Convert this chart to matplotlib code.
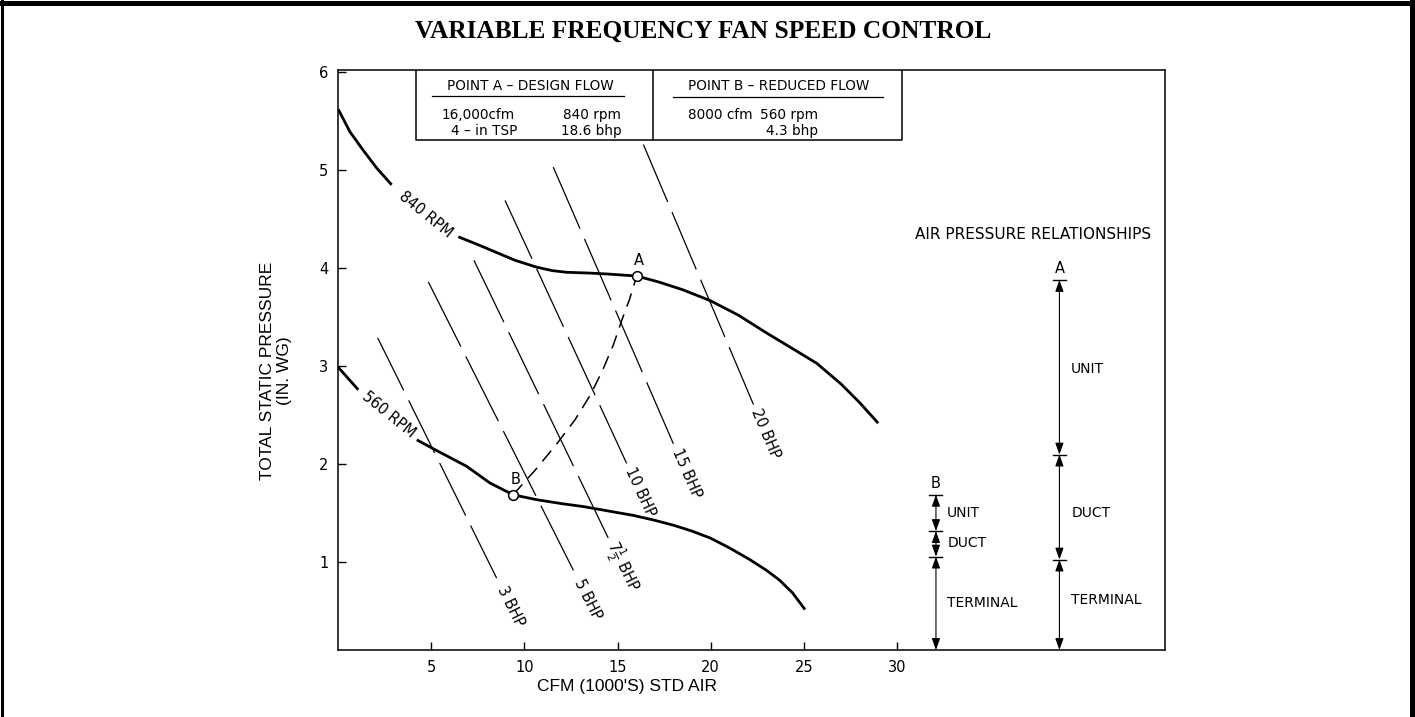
import numpy as np
import matplotlib
matplotlib.use('Agg')
import matplotlib.pyplot as plt
from matplotlib.lines import Line2D

# ---------------- data ----------------
x_ticks = [5, 10, 15, 20, 25, 30]
y_ticks = [1, 2, 3, 4, 5, 6]

# 840 rpm fan curve (first 5 points before the label, rest after)
rpm840_x = [0.0, 0.63, 1.35, 2.07, 2.87,
            6.45, 7.5, 8.5, 9.5, 10.66, 11.5, 12.27, 13.5, 14.5, 16.03,
            17.2, 18.5, 19.97, 21.5, 23.0, 24.4, 25.7, 27.0, 28.0, 29.0]
rpm840_y = [5.62, 5.39, 5.20, 5.02, 4.85,
            4.32, 4.24, 4.16, 4.08, 4.01, 3.975, 3.958, 3.95, 3.94, 3.92,
            3.86, 3.78, 3.67, 3.52, 3.34, 3.18, 3.03, 2.82, 2.63, 2.42]
rpm840_split = 5

# 560 rpm fan curve (first 2 points before the label)
rpm560_x = [0.0, 1.08,
            4.22, 5.1, 6.0, 6.9, 8.15, 9.4, 10.66, 12.0, 13.16, 14.06, 15.85,
            17.0, 18.0, 19.0, 19.97, 21.0, 22.1, 23.0, 23.7, 24.4, 25.07]
rpm560_y = [2.99, 2.76,
            2.25, 2.16, 2.07, 1.98, 1.81, 1.69, 1.64, 1.60, 1.57, 1.54, 1.48,
            1.43, 1.38, 1.32, 1.25, 1.15, 1.03, 0.92, 0.82, 0.69, 0.52]
rpm560_split = 2

# system curve B -> A
system_x = [9.39, 10.57, 11.70, 12.70, 13.55, 14.20, 14.78, 15.23, 15.64, 16.03]
system_y = [1.69, 1.94, 2.20, 2.45, 2.71, 2.96, 3.22, 3.47, 3.68, 3.92]

# constant brake-horsepower lines
bhp_labels = ['3 BHP', '5 BHP', r'$7\frac{1}{2}$ BHP', '10 BHP', '15 BHP', '20 BHP']
bhp_x0 = [2.12, 4.84, 7.29, 8.96, 11.55, 16.39]
bhp_y0 = [3.29, 3.86, 4.08, 4.69, 5.03, 5.26]
bhp_x1 = [8.51, 12.63, 14.50, 15.49, 18.00, 22.30]
bhp_y1 = [0.84, 0.92, 1.25, 2.01, 2.21, 2.61]

# operating points
point_names = ['A', 'B']
point_cfm = [16.03, 9.4]
point_tsp = [3.92, 1.69]

# air pressure relationships (boundaries of TERMINAL / DUCT / UNIT)
segment_names = ['TERMINAL', 'DUCT', 'UNIT']
barA_bounds = [1.03, 2.10, 3.88]
barB_bounds = [1.06, 1.32, 1.69]

# ---------------- figure ----------------
plt.rcParams['font.family'] = ['DejaVu Sans']
plt.rcParams['mathtext.fontset'] = 'dejavusans'
plt.rcParams['lines.scale_dashes'] = False

W, H = 1415, 717
fig = plt.figure(figsize=(W / 100, H / 100), dpi=100)
ax_l, ax_r, ax_t, ax_b = 338.2, 1165, 70, 650
ax = fig.add_axes([ax_l / W, 1 - ax_b / H, (ax_r - ax_l) / W, (ax_b - ax_t) / H])
ax.set_xlim(0, 44.4)
ax.set_ylim(0.108, 6.02)

for s in ax.spines.values():
    s.set_linewidth(1.1)
ax.set_xticks(x_ticks)
ax.set_yticks(y_ticks)
ax.tick_params(direction='in', length=6, width=1, labelsize=10.5, pad=7)

# outer frame and title
fig.add_artist(Line2D([0, 1], [1 - 2.5 / H] * 2, transform=fig.transFigure, lw=3.6, color='k'))
fig.add_artist(Line2D([2 / W] * 2, [0, 1], transform=fig.transFigure, lw=2.2, color='k'))
fig.add_artist(Line2D([1411.5 / W] * 2, [0, 1], transform=fig.transFigure, lw=3.6, color='k'))
fig.text(703 / W, 1 - 31 / H, 'VARIABLE FREQUENCY FAN SPEED CONTROL', ha='center', va='center',
         fontfamily='Liberation Serif', fontweight='bold', fontsize=18.3)

# axis labels
ax.text((276 - ax_l) / (ax_r - ax_l), 0.481, 'TOTAL STATIC PRESSURE\n(IN. WG)', transform=ax.transAxes,
        rotation=90, ha='center', va='center', fontfamily='Liberation Sans', fontsize=12.5,
        linespacing=1.2, multialignment='center')
ax.text((627 - ax_l) / (ax_r - ax_l), (ax_b - 687) / (ax_b - ax_t), "CFM (1000'S) STD AIR",
        transform=ax.transAxes, ha='center', va='center', fontfamily='Liberation Sans', fontsize=12.5)

# fan curves
lwc = 2.0
kw = dict(color='k', lw=lwc, solid_capstyle='butt', solid_joinstyle='round')
ax.plot(rpm840_x[:rpm840_split], rpm840_y[:rpm840_split], **kw)
ax.plot(rpm840_x[rpm840_split:], rpm840_y[rpm840_split:], **kw)
ax.plot(rpm560_x[:rpm560_split], rpm560_y[:rpm560_split], **kw)
ax.plot(rpm560_x[rpm560_split:], rpm560_y[rpm560_split:], **kw)
ax.text(4.72, 4.55, '840 RPM', rotation=-39, ha='center', va='center', fontsize=10.5,
        rotation_mode='anchor')
ax.text(2.73, 2.51, '560 RPM', rotation=-39, ha='center', va='center', fontsize=10.5,
        rotation_mode='anchor')

# system curve
ax.plot(system_x, system_y, color='k', lw=1.1, dashes=(10, 6))

# BHP lines
fig.canvas.draw()
px_per_pt = 100 / 72
for lab, x0, y0, x1, y1 in zip(bhp_labels, bhp_x0, bhp_y0, bhp_x1, bhp_y1):
    p0 = ax.transData.transform((x0, y0))
    p1 = ax.transData.transform((x1, y1))
    d = p1 - p0
    L = np.hypot(*d) / px_per_pt          # length in points
    gap = 8.0
    n = max(1, int(round((L + gap) / (46 + gap))))
    dash = (L - (n - 1) * gap) / n
    ax.plot([x0, x1], [y0, y1], color='k', lw=0.9, dashes=(dash, gap), dash_capstyle='butt')
    ang = np.degrees(np.arctan2(d[1], d[0]))
    u = d / np.hypot(*d)
    c = p1 + u * 32
    cx, cy = ax.transData.inverted().transform(c)
    ax.text(cx, cy, lab, rotation=ang, ha='center', va='center', fontsize=10.5,
            rotation_mode='anchor')

# operating points
ax.plot(point_cfm, point_tsp, 'o', mfc='white', mec='k', ms=7, mew=1.1, zorder=5)
for n_, xx, yy in zip(point_names, point_cfm, point_tsp):
    ax.text(xx + 0.12, yy + 0.16, n_, ha='center', va='center', fontsize=10.5)

# table box
box_l, box_m, box_r, box_b, box_t = 4.18, 16.9, 30.3, 5.31, 6.02
ax.plot([box_l, box_l, box_r, box_r], [box_t, box_b, box_b, box_t], color='k', lw=1.1)
ax.plot([box_m, box_m], [box_b, box_t], color='k', lw=1.1)
tfs = 9.8
ax.text(10.3, 5.86, 'POINT A – DESIGN FLOW', ha='center', va='center', fontsize=tfs)
ax.plot([5.02, 15.37], [5.755, 5.755], color='k', lw=0.9)
ax.text(7.51, 5.56, '16,000cfm', ha='center', va='center', fontsize=tfs)
ax.text(15.21, 5.56, '840 rpm', ha='right', va='center', fontsize=tfs)
ax.text(7.83, 5.40, '4 – in TSP', ha='center', va='center', fontsize=tfs)
ax.text(15.21, 5.40, '18.6 bhp', ha='right', va='center', fontsize=tfs)
ax.text(23.64, 5.86, 'POINT B – REDUCED FLOW', ha='center', va='center', fontsize=tfs)
ax.plot([18.0, 29.27], [5.745, 5.745], color='k', lw=0.9)
ax.text(20.5, 5.56, '8000 cfm', ha='center', va='center', fontsize=tfs)
ax.text(25.75, 5.56, '560 rpm', ha='right', va='center', fontsize=tfs)
ax.text(25.75, 5.40, '4.3 bhp', ha='right', va='center', fontsize=tfs)

# air pressure relationships
ax.text(37.29, 4.34, 'AIR PRESSURE RELATIONSHIPS', ha='center', va='center', fontsize=11)
ybot = ax.get_ylim()[0]
astyle = '<|-|>,head_length=0.7,head_width=0.25'
bars = [('A', 38.73, barA_bounds, [0.62, 1.50, 2.97], 39.36),
        ('B', 32.10, barB_bounds, [0.59, 1.20, 1.50], 32.70)]
for name, bx, bounds, label_y, lx in bars:
    levels = [ybot] + list(bounds)
    for lo, hi in zip(levels[:-1], levels[1:]):
        ax.annotate('', xy=(bx, lo), xytext=(bx, hi),
                    arrowprops=dict(arrowstyle=astyle, color='k', lw=0.8,
                                    shrinkA=0, shrinkB=0, mutation_scale=10))
    for b in bounds:
        ax.plot([bx - 0.35, bx + 0.35], [b, b], color='k', lw=1.0)
    ax.text(bx, bounds[-1] + 0.12, name, ha='center', va='center', fontsize=10.5)
    for seg, ly in zip(segment_names, label_y):
        ax.text(lx, ly, seg, ha='left', va='center', fontsize=10)

fig.savefig('out.png', dpi=100)
